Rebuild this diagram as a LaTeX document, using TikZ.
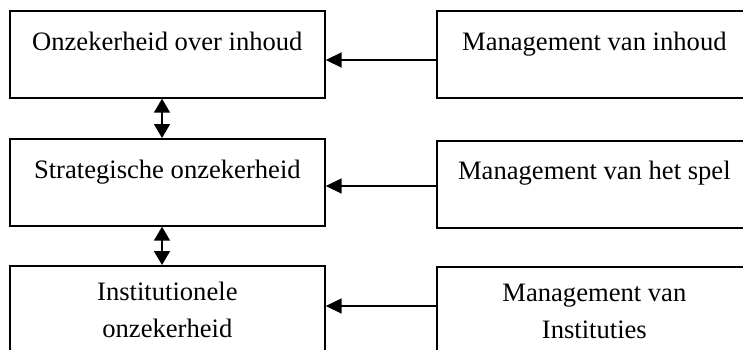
\documentclass[tikz,border=0pt]{standalone}
\usepackage{fontspec}
\setmainfont{Liberation Serif}
\usetikzlibrary{arrows.meta}
\begin{document}
\begin{tikzpicture}[x=1pt,y=-1pt,
  box/.style={draw,line width=1.7pt,rectangle,minimum width=315pt,minimum height=87pt,anchor=north west,inner sep=0pt},
  txt/.style={anchor=base,align=center,inner sep=0pt,font=\fontsize{26.6}{37}\selectfont},
  flow/.style={line width=1.7pt,-{Triangle[length=16pt,width=15pt]}},
  both/.style={line width=1.7pt,{Triangle[length=14pt,width=16pt]}-{Triangle[length=14pt,width=16pt]}}]
\clip (0,0) rectangle (743,349);

% uncertainty column
\node[box] (l1) at (9,10) {};
\node[box] (l2) at (9,138) {};
\node[box] (l3) at (9,265) {};
% management column
\node[box] (r1) at (436,10) {};
\node[box] (r2) at (436,140) {};
\node[box] (r3) at (436,266) {};

% labels (base of a two-line label is its last line)
\node[txt] (t1) at ([yshift=-40.5pt]l1.north) {Onzekerheid over inhoud};
\node[txt] (t2) at ([yshift=-40pt]l2.north) {Strategische onzekerheid};
\node[txt] (t3) at ([yshift=-72pt]l3.north) {Institutionele\\onzekerheid};
\node[txt] (u1) at ([yshift=-40.5pt]r1.north) {Management van inhoud};
\node[txt] (u2) at ([yshift=-39pt]r2.north) {Management van het spel};
\node[txt] (u3) at ([yshift=-72pt]r3.north) {Management van\\Instituties};

% arrow heights
\coordinate (a1) at (0,60);
\coordinate (a2) at (0,186);
\coordinate (a3) at (0,306);
\coordinate (v) at (162,0);

\draw[flow] (r1.west |- a1) -- (l1.east |- a1);
\draw[flow] (r2.west |- a2) -- (l2.east |- a2);
\draw[flow] (r3.west |- a3) -- (l3.east |- a3);

\draw[both] (v |- l1.south) -- (v |- l2.north);
\draw[both] (v |- l2.south) -- (v |- l3.north);
\end{tikzpicture}
\end{document}
